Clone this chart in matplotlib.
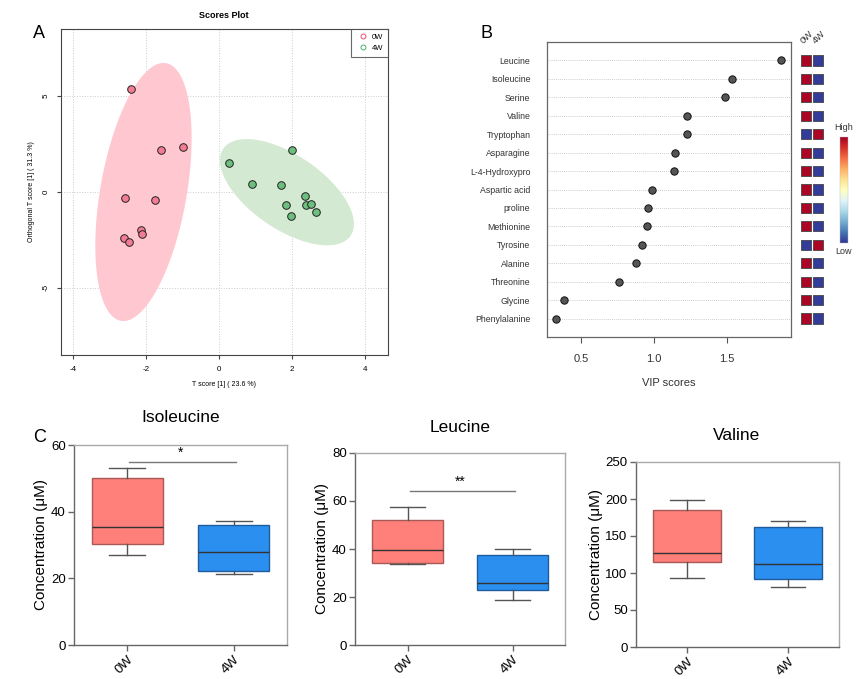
import numpy as np
import matplotlib
matplotlib.use("Agg")
import matplotlib.pyplot as plt
from matplotlib import cm, colors

plt.rcParams['font.family'] = ['Liberation Sans', 'DejaVu Sans']
plt.rcParams['axes.unicode_minus'] = False

# ---- panel A: OPLS-DA scores
scores_0w_x = [-2.41, -1.58, -0.99, -2.58, -1.76, -2.14, -2.12, -2.60, -2.48]
scores_0w_y = [5.38, 2.17, 2.34, -0.33, -0.43, -2.00, -2.17, -2.38, -2.60]
scores_4w_x = [2.00, 0.27, 0.91, 1.69, 2.35, 2.38, 2.52, 1.84, 2.65, 1.97]
scores_4w_y = [2.20, 1.53, 0.42, 0.35, -0.23, -0.66, -0.63, -0.68, -1.02, -1.27]
# ellipse centre and covariance (xx, yy, xy)
ell_0w = [-2.07, 0.0, 1.742, 45.3, 3.70]
ell_4w = [1.86, -0.01, 3.37, 7.67, -3.05]

# ---- panel B: VIP scores
metabolites = ['Leucine', 'Isoleucine', 'Serine', 'Valine', 'Tryptophan', 'Asparagine',
               'L-4-Hydroxypro', 'Aspartic acid', 'proline', 'Methionine', 'Tyrosine',
               'Alanine', 'Threonine', 'Glycine', 'Phenylalanine']
vip = [1.873, 1.532, 1.489, 1.225, 1.225, 1.141, 1.136, 0.983, 0.958, 0.951, 0.914,
       0.873, 0.761, 0.379, 0.326]
high_0w = [1, 1, 1, 1, 0, 1, 1, 1, 1, 1, 0, 1, 1, 1, 1]
high_4w = [0, 0, 0, 0, 1, 0, 0, 0, 0, 0, 1, 0, 0, 0, 0]

# ---- panel C: box plots (whislo, q1, med, q3, whishi)
groups = ['0W', '4W']
box_names = ['Isoleucine', 'Leucine', 'Valine']
box_0w = [[26.9, 30.3, 35.3, 50.2, 53.0],
          [33.9, 34.2, 39.5, 52.2, 57.7],
          [92.8, 114.4, 127.5, 184.7, 198.2]]
box_4w = [[21.4, 22.3, 28.0, 35.9, 37.2],
          [18.9, 22.9, 26.0, 37.6, 40.1],
          [80.6, 91.9, 111.7, 162.2, 170.3]]
box_ymax = [60, 80, 250]
box_ystep = [20, 20, 50]
sig_y = [54.9, 64.1, None]
sig_mark = ['*', '**', None]

W, H = 865, 679
fig = plt.figure(figsize=(W / 100, H / 100), dpi=100)


def px_axes(l, t, r, b):
    return fig.add_axes([l / W, 1 - b / H, (r - l) / W, (b - t) / H])


def ftext(x, y, s, **kw):
    return fig.text(x / W, 1 - y / H, s, **kw)


def ellipse_pts(p, n=200):
    cx, cy, sxx, syy, sxy = p
    L = np.linalg.cholesky(np.array([[sxx, sxy], [sxy, syy]]))
    t = np.linspace(0, 2 * np.pi, n)
    xy = L @ np.vstack([np.cos(t), np.sin(t)])
    return cx + xy[0], cy + xy[1]


# ---------------- A
axA = px_axes(61, 29, 388, 355)
axA.set_xlim(-4.33, 4.63)
axA.set_ylim(-8.5, 8.5)
axA.set_xticks([-4, -2, 0, 2, 4])
axA.set_yticks([-5, 0, 5])
axA.grid(True, ls=':', color='#cccccc', lw=0.7)
axA.set_axisbelow(True)
ex, ey = ellipse_pts(ell_0w)
axA.fill(ex, ey, color='#FFC8D0', lw=0, zorder=1)
ex, ey = ellipse_pts(ell_4w)
axA.fill(ex, ey, color='#D3E9D1', lw=0, zorder=1)
axA.scatter(scores_0w_x, scores_0w_y, s=30, c='#F27C93', edgecolors='#222222', linewidths=0.7, zorder=3)
axA.scatter(scores_4w_x, scores_4w_y, s=30, c='#6DBF7E', edgecolors='#222222', linewidths=0.7, zorder=3)
axA.tick_params(labelsize=5.8, length=3, pad=5, color='#444444')
for lab in axA.get_yticklabels():
    lab.set_rotation(90)
    lab.set_va('center')
for s in axA.spines.values():
    s.set_color('#444444')
    s.set_linewidth(0.8)
axA.set_xlabel('T score [1] ( 23.6 %)', fontsize=5, labelpad=6)
axA.set_ylabel('Orthogonal T score [1] ( 31.3 %)', fontsize=5, labelpad=6)
lh = [plt.Line2D([], [], ls='', marker='o', mfc='none', mec='#F0506E', ms=3.5, mew=0.7),
      plt.Line2D([], [], ls='', marker='o', mfc='none', mec='#4DB06A', ms=3.5, mew=0.7)]
leg = axA.legend(lh, groups, loc='upper right', fontsize=5.5, frameon=True, fancybox=False,
                 borderaxespad=0, handletextpad=0.2, borderpad=0.6, labelspacing=0.5)
leg.get_frame().set_edgecolor('#444444')
leg.get_frame().set_linewidth(0.8)
ftext(224, 16, 'Scores Plot', fontsize=6.5, fontweight='bold', ha='center', va='center')
ftext(39, 33, 'A', fontsize=13, ha='center', va='center')

# ---------------- B
ypos = np.arange(len(metabolites))
axB = px_axes(547, 42, 791, 337)
axB.set_xlim(0.265, 1.94)
axB.set_ylim(len(metabolites), -1)
for y in ypos:
    axB.axhline(y, color='#bbbbbb', ls=(0, (1, 1.5)), lw=0.6, zorder=1)
axB.scatter(vip, ypos, s=28, c='#555555', edgecolors='#111111', linewidths=0.7, zorder=3)
axB.set_yticks(ypos)
axB.set_yticklabels(metabolites)
axB.set_xticks([0.5, 1.0, 1.5])
axB.tick_params(axis='y', length=0, pad=12, labelsize=6.3, labelcolor='#333333')
axB.tick_params(axis='x', length=4, pad=8, labelsize=8, color='#555555', labelcolor='#333333')
for s in axB.spines.values():
    s.set_color('#666666')
    s.set_linewidth(0.9)
axB.set_xlabel('VIP scores', fontsize=8, labelpad=10, color='#333333')
ftext(487, 33, 'B', fontsize=13, ha='center', va='center')

cmap = plt.get_cmap('RdYlBu_r')
axH = px_axes(800, 42, 824, 337)
axH.set_xlim(0.5, 2.5)
axH.set_ylim(len(metabolites), -1)
axH.scatter(np.full(len(ypos), 1), ypos, marker='s', s=54, c=[cmap(0.97 * v + 0.015) for v in high_0w],
            edgecolors='#444444', linewidths=0.6)
axH.scatter(np.full(len(ypos), 2), ypos, marker='s', s=54, c=[cmap(0.97 * v + 0.015) for v in high_4w],
            edgecolors='#444444', linewidths=0.6)
axH.axis('off')
ftext(807, 37, '0W', fontsize=6.8, rotation=45, ha='center', va='center', color='#333333')
ftext(819, 37, '4W', fontsize=6.8, rotation=45, ha='center', va='center', color='#333333')

axC = px_axes(840, 137, 848, 243)
cb = fig.colorbar(cm.ScalarMappable(norm=colors.Normalize(0, 1), cmap=cmap), cax=axC)
cb.set_ticks([])
cb.outline.set_linewidth(0.3)
cb.outline.set_edgecolor('#bbbbbb')
ftext(844, 128, 'High', fontsize=6.5, ha='center', va='center', color='#333333')
ftext(844, 251, 'Low', fontsize=6.5, ha='center', va='center', color='#333333')

# ---------------- C
boxes_px = [(74, 445, 287, 645), (355, 453, 565, 645), (636, 462, 839, 647)]
title_px = [(181, 418), (460, 427), (737, 436)]
for i, name in enumerate(box_names):
    ax = px_axes(*boxes_px[i])
    stats = []
    for g, v in zip(groups, [box_0w[i], box_4w[i]]):
        stats.append(dict(label=g, whislo=v[0], q1=v[1], med=v[2], q3=v[3], whishi=v[4]))
    bp = ax.bxp(stats, positions=[1, 2], widths=0.67, patch_artist=True, showfliers=False,
                medianprops=dict(color='#333333', lw=1),
                whiskerprops=dict(color='#555555', lw=1),
                capprops=dict(color='#555555', lw=1))
    bp['boxes'][0].set_facecolor('#FF7F7A')
    bp['boxes'][0].set_edgecolor('#A85A56')
    bp['boxes'][1].set_facecolor('#2A8FEF')
    bp['boxes'][1].set_edgecolor('#1F5C9E')
    for b in bp['boxes']:
        b.set_linewidth(1)
    ax.set_xlim(0.5, 2.5)
    ax.set_ylim(0, box_ymax[i])
    ax.set_yticks(np.arange(0, box_ymax[i] + 1, box_ystep[i]))
    ax.set_xticks([1, 2])
    ax.set_xticklabels(groups, rotation=45, ha='right', rotation_mode='anchor')
    ax.tick_params(labelsize=9.5, length=4, width=1, color='#666666', pad=2)
    for side in ['left', 'bottom']:
        ax.spines[side].set_color('#666666')
        ax.spines[side].set_linewidth(1)
    for side in ['top', 'right']:
        ax.spines[side].set_color('#aaaaaa')
        ax.spines[side].set_linewidth(1)
    ax.set_ylabel('Concentration (μM)', fontsize=11, labelpad=2)
    if sig_y[i] is not None:
        ax.plot([1.02, 2.02], [sig_y[i], sig_y[i]], color='#777777', lw=1)
        ax.text(1.5, sig_y[i] + box_ymax[i] * 0.012, sig_mark[i], ha='center', va='bottom', fontsize=10)
    ftext(title_px[i][0], title_px[i][1], name, fontsize=12.5, ha='center', va='center')
ftext(40, 437, 'C', fontsize=13, ha='center', va='center')

fig.savefig('out.png', dpi=100)
